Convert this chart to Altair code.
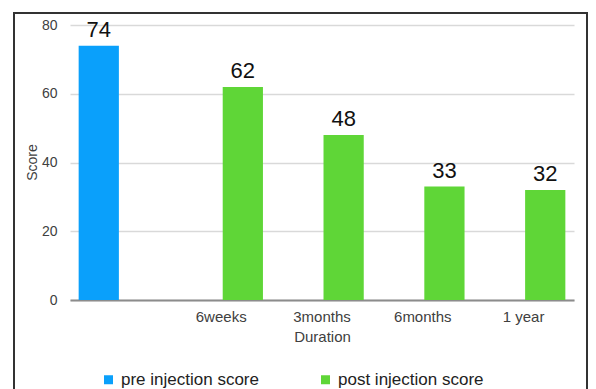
import altair as alt
import pandas as pd

categories = ["", "6weeks", "3months", "6months", "1 year"]
pre_scores = [74, None, None, None, None]
post_scores = [None, 62, 48, 33, 32]
series_names = ["pre injection score", "post injection score"]
series_colors = ["#0aa0fb", "#5fd637"]

rows = []
for cat, pre, post in zip(categories, pre_scores, post_scores):
    if pre is not None:
        rows.append({"Duration": cat, "series": series_names[0], "Score": pre})
    if post is not None:
        rows.append({"Duration": cat, "series": series_names[1], "Score": post})
df = pd.DataFrame(rows)

FONT = "Liberation Sans"

x_enc = alt.X(
    "Duration:N",
    sort=categories,
    scale=alt.Scale(domain=categories, paddingInner=0, paddingOuter=0),
    axis=alt.Axis(
        title="Duration",
        ticks=False,
        grid=False,
        labelAngle=0,
        labelPadding=9,
        labelFontSize=15,
        labelColor="#404040",
        labelFont=FONT,
        titleFont=FONT,
        titleFontSize=15,
        titleFontWeight="normal",
        titleColor="#404040",
        titleBaseline="middle",
        titleY=36,
        domainColor="#8c8c8c",
        domainWidth=2,
    ),
)
xoff_enc = alt.XOffset(
    "series:N",
    sort=series_names,
    scale=alt.Scale(domain=series_names, paddingInner=0.07, paddingOuter=0.2),
)
y_enc = alt.Y(
    "Score:Q",
    scale=alt.Scale(domain=[0, 80]),
    axis=alt.Axis(
        title="Score",
        values=[0, 20, 40, 60, 80],
        ticks=False,
        domain=False,
        labelPadding=13,
        labelFontSize=14,
        labelColor="#404040",
        labelFont=FONT,
        titleFont=FONT,
        titleFontSize=14,
        titleFontWeight="normal",
        titleColor="#404040",
        titleX=-34,
        titleY=137,
        titleAngle=-90,
        titleBaseline="alphabetic",
        gridColor="#d9d9d9",
        gridWidth=1.5,
    ),
)

bars = alt.Chart(df).mark_bar(stroke=None).encode(
    x=x_enc,
    xOffset=xoff_enc,
    y=y_enc,
    color=alt.Color(
        "series:N",
        sort=series_names,
        scale=alt.Scale(domain=series_names, range=series_colors),
        legend=alt.Legend(
            title=None,
            orient="none",
            direction="horizontal",
            legendX=30,
            legendY=346,
            symbolType="square",
            symbolSize=81,
            symbolStrokeWidth=0,
            labelFont=FONT,
            labelFontSize=17,
            labelColor="#222222",
            labelOffset=4,
            columnPadding=58,
            padding=0,
        ),
    ),
)

labels = alt.Chart(df).mark_text(
    baseline="alphabetic", dy=-9, fontSize=22, font=FONT, color="#111111"
).encode(
    x=alt.X("Duration:N", sort=categories),
    xOffset=alt.XOffset("series:N", sort=series_names),
    y=alt.Y("Score:Q"),
    text=alt.Text("Score:Q"),
)

frame = alt.Chart(df).mark_rect(
    fill=None, stroke="#333333", strokeWidth=1.5, clip=False
).encode(
    x=alt.value(-56), x2=alt.value(517), y=alt.value(-12), y2=alt.value(380)
)

chart = (
    alt.layer(bars, labels, frame)
    .properties(
        width=504,
        height=275,
        autosize=alt.AutoSizeParams(type="none"),
        padding={"left": 70, "top": 25, "right": 22, "bottom": 89},
        background="white",
    )
    .configure_view(stroke=None)
)

chart.save("out.html", embed_options={"renderer": "svg", "actions": False})
